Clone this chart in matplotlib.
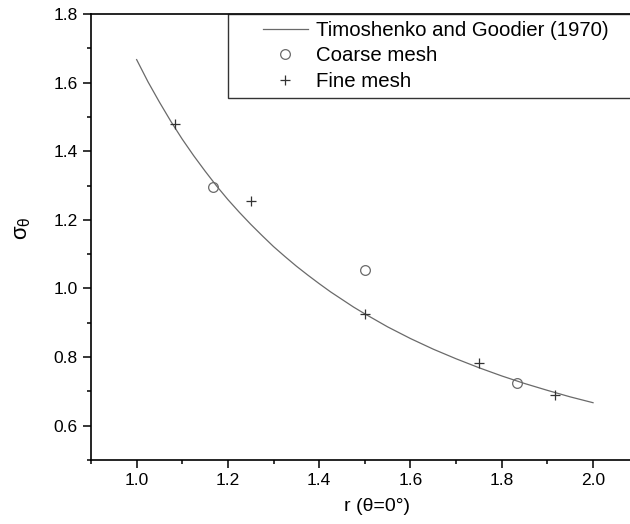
import matplotlib
matplotlib.use("Agg")
import matplotlib.pyplot as plt
from matplotlib.legend_handler import HandlerLine2D

plt.rcParams['font.family'] = ['Liberation Sans', 'DejaVu Sans']
plt.rcParams['mathtext.fontset'] = 'custom'
plt.rcParams['mathtext.rm'] = 'Liberation Sans'
plt.rcParams['mathtext.it'] = 'Liberation Sans'

# Analytical curve (Timoshenko and Goodier, 1970)
theory_r = [1.000, 1.025, 1.050, 1.075, 1.100, 1.125, 1.150, 1.175, 1.200, 1.225,
            1.250, 1.275, 1.300, 1.325, 1.350, 1.375, 1.400, 1.425, 1.450, 1.475,
            1.50, 1.55, 1.60, 1.65, 1.70, 1.75, 1.80, 1.85, 1.90, 1.95, 2.00]
theory_s = [1.667, 1.602, 1.543, 1.487, 1.435, 1.387, 1.342, 1.299, 1.259, 1.222,
            1.187, 1.154, 1.122, 1.093, 1.065, 1.039, 1.014, 0.990, 0.968, 0.946,
            0.926, 0.888, 0.854, 0.823, 0.795, 0.769, 0.745, 0.723, 0.703, 0.684, 0.667]

coarse_r = [1.1667, 1.5, 1.8333]
coarse_s = [1.295, 1.053, 0.723]

fine_r = [1.0833, 1.25, 1.5, 1.75, 1.9167]
fine_s = [1.479, 1.254, 0.927, 0.784, 0.690]

x_ticks = [1.0, 1.2, 1.4, 1.6, 1.8, 2.0]
y_ticks = [0.6, 0.8, 1.0, 1.2, 1.4, 1.6, 1.8]


class ShiftedHandler(HandlerLine2D):
    """Line handler whose visible part starts some points into the handle box."""
    def __init__(self, shift, **kw):
        super().__init__(**kw)
        self.shift = shift

    def create_artists(self, legend, orig_handle, xdescent, ydescent, width,
                       height, fontsize, trans):
        return super().create_artists(legend, orig_handle, xdescent - self.shift,
                                      ydescent, width - self.shift, height,
                                      fontsize, trans)


fig = plt.figure(figsize=(6.30, 5.24), dpi=100)
ax = fig.add_axes([91/630, 1 - 460/524, 1 - 91/630, (460 - 14)/524])

gray = '#6a6a6a'
l1, = ax.plot(theory_r, theory_s, color=gray, lw=0.9, label='Timoshenko and Goodier (1970)')
l2, = ax.plot(coarse_r, coarse_s, 'o', ms=7, mfc='none', mec=gray, mew=0.9, label='Coarse mesh')
l3, = ax.plot(fine_r, fine_s, '+', ms=6.5, color='#333333', mew=0.9, label='Fine mesh')

ax.set_xlim(0.9, 2.081)
ax.set_ylim(0.5, 1.8)
ax.set_xticks(x_ticks)
ax.set_yticks(y_ticks)
ax.set_xticklabels([f'{v:.1f}' for v in x_ticks])
ax.set_yticklabels([f'{v:.1f}' for v in y_ticks])
ax.set_xticks([0.9 + 0.1 * i for i in range(12)], minor=True)
ax.set_yticks([0.5 + 0.1 * i for i in range(14)], minor=True)
ax.tick_params(which='major', direction='out', length=6, width=1.1, labelsize=12.5)
ax.tick_params(which='minor', direction='out', length=3, width=1.1)
for s in ['left', 'bottom', 'top']:
    ax.spines[s].set_linewidth(1.2)
ax.spines['right'].set_visible(False)

ax.set_xlabel('r (θ=0°)', fontsize=14)
ax.xaxis.set_label_coords(0.53, -0.085)
ax.set_ylabel(r'$\sigma_{\theta}$', fontsize=16)
ax.yaxis.set_label_coords(-0.108, 0.52)

fs = 14.7
shift_pts = 28 * 72 / 100
hm = {h: ShiftedHandler(shift_pts) for h in (l1, l2, l3)}
leg = ax.legend(handles=[l1, l2, l3], handler_map=hm,
                loc='upper left', bbox_to_anchor=(0.254, 0.0, 0.76, 1.0), mode='expand',
                frameon=True, fancybox=False, fontsize=fs, borderaxespad=0,
                handlelength=3.58, handletextpad=0.39, labelspacing=0.33,
                borderpad=0.33)
leg.get_frame().set_edgecolor('black')
leg.get_frame().set_linewidth(1.0)

fig.savefig('out.png', dpi=100)
